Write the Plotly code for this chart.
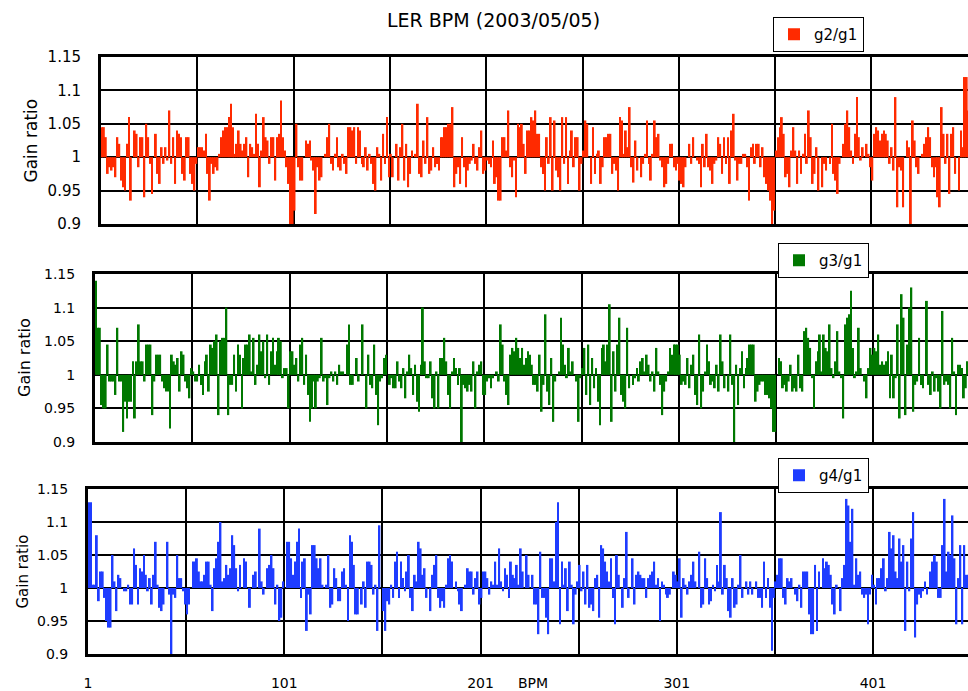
import plotly.graph_objects as go

# ---------------- data ----------------
g2_g1 = [
1.045,1.045,1.03,0.975,0.985,0.98,0.985,0.97,1.03,1.02,
0.965,0.955,0.95,1.02,1.06,0.935,1.0,1.04,1.035,0.985,
1.03,1.03,0.94,1.05,1.03,0.99,0.945,1.0,1.035,0.975,
0.96,1.015,0.99,1.015,0.995,1.07,0.99,1.03,0.96,1.04,
1.035,1.03,0.975,0.965,1.03,1.03,0.975,0.96,0.95,0.99,
1.015,1.015,1.015,1.01,1.035,0.975,0.935,0.99,0.975,0.985,
0.98,1.005,1.03,1.04,1.045,1.045,1.06,1.08,1.045,1.005,
1.02,1.04,1.02,1.01,1.02,1.03,0.97,1.02,1.015,1.005,
1.065,1.02,0.955,1.01,1.06,1.03,1.025,0.99,1.03,1.03,
0.965,1.03,1.035,1.085,1.03,1.01,0.985,0.96,0.9,0.895,
0.92,1.05,0.985,0.965,0.965,1.0,1.025,1.02,1.025,0.995,
0.98,0.915,0.985,0.965,0.97,1.0,1.005,1.03,1.05,0.99,
0.98,1.005,1.03,0.985,0.98,1.005,0.99,0.975,1.045,1.045,
1.04,1.045,0.99,1.045,1.04,0.99,0.985,1.015,0.98,1.005,
0.99,0.96,0.95,1.015,1.005,0.965,1.035,0.99,1.06,0.97,
1.005,0.97,1.0,1.02,0.965,1.015,1.05,0.965,1.02,0.955,
0.975,1.01,1.0,1.005,1.08,0.975,0.97,1.025,0.99,1.06,
0.975,0.98,1.015,0.985,0.99,0.98,1.03,1.03,1.045,1.045,
1.05,1.05,1.075,0.955,0.975,0.985,0.96,1.03,0.985,0.955,
0.98,0.99,0.995,1.02,0.99,0.98,1.015,1.04,0.975,0.98,
0.995,0.99,0.985,1.025,0.96,0.97,0.935,0.935,1.03,1.03,
1.01,1.07,0.985,0.97,0.995,0.94,1.05,1.045,1.05,1.02,
0.975,1.04,1.04,1.06,1.055,1.07,1.035,1.035,0.985,0.975,
0.95,1.03,0.99,1.06,0.95,1.055,0.98,0.97,0.95,1.06,
0.99,1.06,0.96,1.01,1.04,0.985,1.03,1.03,0.95,0.99,
1.01,1.055,1.05,1.0,0.96,1.045,0.975,1.005,1.01,0.96,
0.985,1.03,1.03,1.035,1.035,0.975,0.99,0.98,0.95,1.06,
1.055,1.005,1.04,1.015,1.075,0.985,0.962,1.025,0.98,1.0,
0.97,0.99,1.005,1.055,0.99,0.965,1.005,1.055,1.03,1.035,
0.995,0.985,0.955,0.96,0.99,1.02,1.02,0.985,0.98,0.99,
0.965,0.96,0.955,0.985,1.0,1.02,0.99,1.03,1.0,0.995,
0.99,0.955,1.02,0.985,1.035,0.985,0.98,0.96,0.99,0.995,
1.03,1.02,0.975,1.03,0.99,1.03,0.96,1.04,1.065,0.995,
0.965,0.99,0.99,1.005,1.005,0.985,0.935,1.015,1.02,0.99,
1.02,1.02,0.985,1.015,0.97,0.96,0.95,0.935,0.895,0.92,
1.01,1.03,1.045,1.06,1.035,0.97,0.975,0.955,1.01,1.045,
1.01,0.96,1.01,0.975,1.005,1.035,0.99,1.07,1.03,0.96,
0.975,1.015,0.95,1.0,0.955,0.99,0.98,1.0,0.99,1.05,
0.975,0.965,0.945,0.99,1.0,1.02,1.05,1.07,1.045,1.01,
0.99,1.035,1.09,1.03,0.995,1.015,1.0,1.02,1.005,0.985,
0.965,1.035,1.045,1.04,1.025,1.035,1.04,1.035,1.025,0.99,
1.015,0.98,1.09,0.925,0.985,0.98,0.925,1.0,1.025,1.015,
0.895,1.055,1.025,0.985,0.975,1.0,1.005,1.02,1.03,1.045,
1.03,0.985,0.97,0.985,0.94,0.925,1.075,1.035,0.99,1.035,
0.945,1.035,1.045,0.975,1.0,0.95,1.04,1.015,1.12,1.12,1.07,
]

g3_g1 = [
1.14,1.07,1.07,0.955,0.95,0.95,1.045,0.99,0.99,0.99,
0.97,1.07,0.99,0.99,0.915,0.96,0.935,0.96,0.96,1.02,
0.935,1.02,1.075,1.02,1.02,0.99,1.045,1.045,1.045,0.94,
0.99,1.03,1.03,1.03,0.99,0.98,0.975,0.975,0.92,1.03,
1.02,1.015,1.025,0.975,1.035,1.03,0.99,0.98,0.965,1.01,
1.005,0.99,0.99,1.015,0.985,0.97,1.02,1.03,0.975,1.045,
1.04,1.05,1.06,0.94,1.05,1.055,1.055,1.1,0.94,0.985,
0.985,1.03,0.975,1.045,1.03,0.95,1.025,1.045,1.045,1.06,
1.005,1.055,0.985,1.015,1.06,1.035,1.05,0.995,1.06,0.985,
1.035,1.055,1.015,1.035,1.055,1.05,0.995,1.01,1.01,0.95,
1.035,1.035,1.015,1.025,0.99,1.045,1.055,0.985,1.03,0.97,
0.93,0.95,0.99,0.95,0.99,0.995,1.055,0.99,0.995,0.955,
0.995,1.005,0.99,1.005,0.985,1.015,1.005,1.005,1.0,1.045,
1.075,0.985,0.985,1.0,1.025,0.99,1.0,1.075,1.0,0.95,
1.03,0.985,0.98,1.045,0.97,0.925,0.99,0.995,1.025,1.03,
1.0,0.985,0.995,0.98,0.98,1.02,0.99,0.98,1.01,0.965,
1.005,1.03,1.01,0.97,1.015,0.96,0.945,1.015,1.1,1.02,
0.995,0.995,1.02,0.965,0.95,1.005,0.95,1.025,1.025,1.055,
1.02,0.97,0.95,1.005,1.025,1.01,0.985,1.01,0.9,0.985,
0.98,0.975,0.985,0.975,1.02,0.95,1.005,1.015,1.02,0.97,
0.97,0.99,0.995,0.98,0.995,1.0,1.005,0.99,1.075,1.045,
0.99,0.97,0.955,1.03,1.04,1.035,1.055,1.04,1.025,1.04,
1.015,1.025,1.035,1.03,1.015,0.985,0.985,0.975,1.03,0.945,
0.985,1.09,0.975,0.955,1.025,0.93,0.99,1.0,1.005,1.085,
1.045,1.015,0.995,1.04,1.005,1.02,1.0,0.99,0.93,0.995,
1.01,1.04,0.97,1.045,0.955,1.025,0.98,1.01,0.96,0.925,
1.04,1.045,1.02,1.045,1.105,0.93,1.035,0.975,1.045,1.085,
0.97,0.96,0.95,1.07,0.98,1.0,0.985,0.995,1.01,0.99,
1.02,1.025,1.005,1.03,1.015,0.99,1.005,0.975,1.04,1.005,
0.985,0.94,0.975,0.99,1.005,1.04,1.03,1.045,1.045,1.045,
1.03,0.985,0.99,0.985,1.025,0.98,1.015,1.03,0.97,0.955,
1.06,0.95,0.975,1.005,1.045,1.02,0.985,0.99,0.98,1.015,
0.975,1.06,1.02,0.98,1.0,0.975,1.06,0.985,0.9,1.015,
0.955,1.01,1.035,0.98,1.01,1.025,1.045,1.045,1.045,0.96,
0.975,0.985,0.99,0.99,0.97,0.97,0.965,0.95,0.915,0.915,
1.0,1.025,1.02,0.98,0.985,0.975,0.99,1.015,0.975,0.98,
0.975,1.03,0.98,0.975,1.065,1.07,1.055,1.04,0.995,0.95,
1.02,1.035,1.06,1.005,1.06,1.04,1.035,1.075,1.01,0.995,
1.02,1.065,1.005,0.995,0.935,1.075,1.085,1.09,1.125,1.04,
0.995,1.005,1.07,1.01,1.0,0.99,0.965,1.01,1.04,1.03,
1.04,1.035,1.06,1.015,1.02,1.015,1.02,1.035,0.965,1.03,
0.965,0.995,1.075,0.935,1.12,1.085,0.94,1.045,1.1,1.13,
0.945,0.985,0.99,1.055,0.985,0.98,1.0,1.11,0.985,0.97,
1.005,0.975,0.995,0.975,0.95,1.095,0.985,0.99,0.985,0.95,
1.055,1.005,0.94,1.015,1.015,1.01,0.965,0.98,1.02,0.99,1.01,
]

g4_g1 = [
1.13,1.13,1.005,1.005,1.08,0.98,1.025,1.025,0.985,0.95,
0.94,0.94,1.05,1.01,0.965,1.02,1.015,1.0,0.995,0.995,
1.005,0.975,0.975,1.06,1.035,0.975,1.03,1.025,1.05,1.02,
0.995,1.015,0.975,1.02,1.07,1.005,0.97,0.965,0.975,1.0,
1.07,0.99,0.9,0.99,0.985,1.05,1.015,1.015,0.995,0.975,
0.96,0.975,1.0,1.04,1.04,1.045,1.025,1.01,1.01,1.02,
1.04,1.04,1.005,0.965,1.03,1.045,1.07,1.1,1.01,1.015,
1.035,1.02,1.03,1.08,1.065,1.03,0.995,1.035,1.0,1.045,
1.04,1.0,0.97,1.0,1.02,1.025,1.0,1.09,1.01,0.99,
1.0,1.03,1.035,1.05,1.03,0.975,1.005,0.95,0.955,1.01,
1.0,1.07,1.07,1.045,1.02,1.04,1.07,1.09,0.985,1.04,
1.045,0.935,0.99,0.96,1.065,1.065,1.045,1.03,1.045,1.005,
1.0,1.005,1.05,0.97,0.975,1.03,1.015,0.98,0.98,1.025,
1.03,1.005,0.95,1.08,1.07,1.035,0.96,0.96,1.0,0.975,
1.01,0.97,1.04,1.04,1.035,0.99,1.005,0.935,1.095,1.0,
0.965,0.935,0.98,0.975,1.005,0.985,1.04,1.055,0.985,1.04,
1.015,0.995,1.025,1.05,0.985,0.965,1.02,1.01,1.07,1.06,
1.02,1.03,0.985,1.0,0.965,1.02,1.035,1.05,0.985,0.97,
0.98,0.97,1.005,1.045,1.05,1.04,1.0,1.01,0.995,0.975,
0.965,1.0,1.005,1.03,1.025,1.025,0.99,1.015,1.025,0.975,
0.985,1.025,1.025,1.015,0.99,1.01,1.005,1.04,1.005,1.06,
1.01,0.995,1.03,1.02,0.985,1.04,1.02,1.015,1.035,1.005,
1.06,1.025,1.0,1.05,1.02,1.0,1.02,0.975,0.975,0.93,
1.055,0.985,0.985,0.955,0.93,1.045,1.045,1.01,1.1,1.13,
0.945,1.04,1.005,1.03,0.965,1.04,1.005,0.945,0.99,1.01,
1.035,0.995,1.025,0.975,1.035,0.97,0.975,0.965,1.015,1.02,
0.955,1.065,1.06,1.04,1.025,1.01,1.045,0.985,0.945,1.05,
1.02,1.0,0.97,1.015,1.085,0.985,1.0,1.045,0.975,1.02,
1.025,1.02,1.015,1.015,0.985,1.015,1.02,1.025,1.04,1.005,
1.015,0.95,1.01,1.005,0.99,0.985,0.99,1.0,1.025,1.02,
1.01,1.045,0.955,1.015,1.005,0.99,1.01,1.02,1.04,1.01,
1.0,1.055,0.97,0.975,1.045,1.015,0.975,0.98,1.005,0.995,
1.035,1.01,1.115,0.99,1.035,1.015,0.965,0.955,1.015,0.97,
0.975,1.005,1.05,0.985,1.0,1.01,0.99,1.01,0.99,1.0,
1.01,0.985,0.985,0.97,1.04,0.985,1.015,0.97,0.905,0.985,
1.01,1.02,1.045,1.045,0.985,0.975,1.015,1.01,1.015,1.0,
0.99,0.98,1.005,0.97,1.025,1.025,1.025,0.96,0.93,0.93,
1.035,0.935,1.025,1.0,1.045,1.03,1.04,1.035,1.02,0.975,
0.96,1.005,1.0,0.965,1.015,1.035,1.135,1.125,1.07,1.12,
1.005,1.045,1.02,1.025,0.99,0.985,0.99,0.945,0.99,1.02,
1.005,0.975,1.015,1.015,1.03,1.045,0.995,1.015,1.085,1.06,
1.08,1.025,1.015,1.075,1.04,1.065,0.935,1.04,0.995,1.075,
1.115,0.925,0.975,0.99,0.985,0.995,1.01,0.99,1.0,1.025,
1.04,1.05,1.04,0.985,0.985,1.065,1.135,1.025,1.055,1.05,
1.11,1.045,0.945,1.015,1.065,0.945,1.065,1.02,1.02,1.01,1.0,
]

series_names = ["g2/g1", "g3/g1", "g4/g1"]
series_colors = ["#ff2a00", "#007800", "#1e3cff"]
y_ticks = [0.9, 0.95, 1.0, 1.05, 1.1, 1.15]
y_tick_text = ["0.9", "0.95", "1", "1.05", "1.1", "1.15"]
x_grid = [0.5 + 50 * k for k in range(10)]
x_tick_text = ["1", "", "101", "", "201", "", "301", "", "401", ""]
title_text = "LER BPM (2003/05/05)"

W, H = 968, 691

def px(x):
    return x / W

def py(y):
    return 1 - y / H

# panel geometry (pixels): left, top, bottom, px per BPM
panels = [
    dict(left=101, top=57, bottom=224, ppb=1.926, tick=15, title=17, tx=30),
    dict(left=95, top=274, bottom=442, ppb=1.946, tick=14, title=16, tx=24),
    dict(left=88, top=489, bottom=654, ppb=1.9625, tick=14, title=15, tx=22),
]
legend_pos = [(773, 17), (778, 243), (778, 458)]

fig = go.Figure()
data = [g2_g1, g3_g1, g4_g1]
for i, vals in enumerate(data):
    n = i + 1
    sfx = "" if n == 1 else str(n)
    bpm = list(range(1, len(vals) + 1))
    fig.add_trace(go.Bar(
        x=bpm, y=[v - 1 for v in vals], base=1,
        name=series_names[i], marker_color=series_colors[i],
        marker_line_width=0, xaxis="x" + sfx, yaxis="y" + sfx,
        legend="legend" + sfx, showlegend=True,
    ))

layout = dict(
    width=W, height=H, margin=dict(l=0, r=0, t=0, b=0, autoexpand=False),
    paper_bgcolor="white", plot_bgcolor="white",
    bargap=0.05, showlegend=True,
    font=dict(family="DejaVu Sans", color="black"),
)
annotations = []
for i, p in enumerate(panels):
    n = i + 1
    sfx = "" if n == 1 else str(n)
    span = (W - p["left"]) / p["ppb"]
    layout["xaxis" + sfx] = dict(
        domain=[px(p["left"]), 1.0], range=[0.5, 0.5 + span],
        anchor="y" + sfx, tickmode="array", tickvals=x_grid,
        ticktext=x_tick_text, showticklabels=(n == 3), ticks="",
        showgrid=True, gridcolor="black", gridwidth=1.5,
        showline=True, linecolor="black", linewidth=3, mirror=True,
        zeroline=False, tickfont=dict(size=14), ticklabelstandoff=14,
        automargin=False, fixedrange=True,
    )
    layout["yaxis" + sfx] = dict(
        domain=[py(p["bottom"]), py(p["top"])], range=[0.9, 1.15],
        anchor="x" + sfx, tickmode="array", tickvals=y_ticks,
        ticktext=y_tick_text, ticks="", showgrid=True, gridcolor="black",
        gridwidth=1.5, showline=True, linecolor="black", linewidth=3,
        zeroline=False, tickfont=dict(size=p["tick"]), ticklabelstandoff=14,
        automargin=False, fixedrange=True,
    )
    lx, ly = legend_pos[i]
    layout["legend" + sfx] = dict(
        x=px(lx), y=py(ly), xanchor="left", yanchor="top",
        bgcolor="white", bordercolor="black", borderwidth=1,
        font=dict(size=15), itemwidth=30, tracegroupgap=0,
    )
    annotations.append(dict(
        text="Gain ratio", textangle=-90, x=px(p["tx"]),
        y=py((p["top"] + p["bottom"]) / 2), xref="paper", yref="paper",
        xanchor="center", yanchor="middle",
        showarrow=False, font=dict(size=p["title"]),
    ))

annotations.append(dict(text=title_text, x=px(493), y=py(20), xref="paper",
                        yref="paper", xanchor="center", yanchor="middle",
                        showarrow=False, font=dict(size=19)))
annotations.append(dict(text="BPM", x=px(533), y=py(683), xref="paper",
                        yref="paper", xanchor="center", yanchor="middle",
                        showarrow=False, font=dict(size=14)))
layout["annotations"] = annotations
fig.update_layout(**layout)

fig.write_html("out.html", config={"displayModeBar": False},
               post_script="document.body.style.margin='0';")
